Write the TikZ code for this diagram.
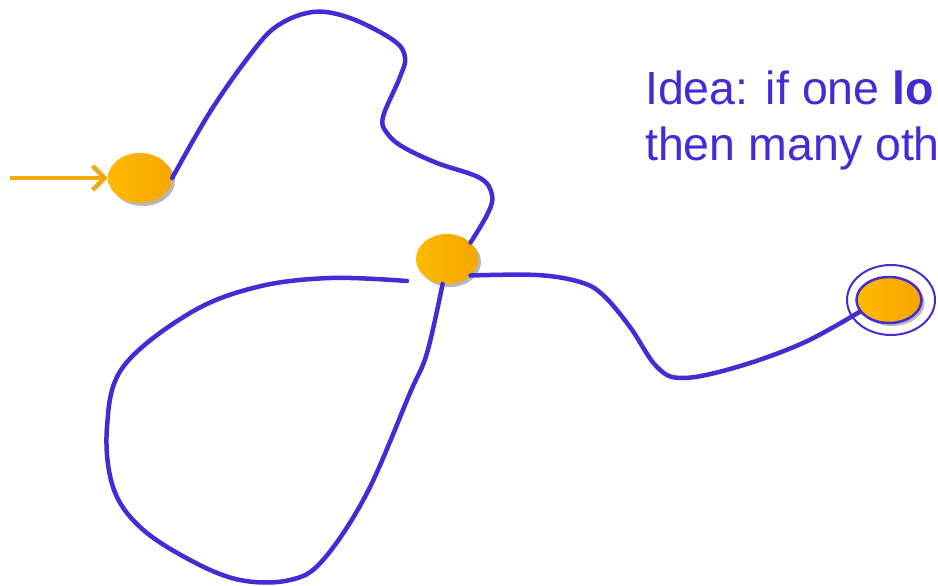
\documentclass[tikz,border=0pt]{standalone}
\usepackage{fontspec}
\setmainfont{Liberation Sans}
\usetikzlibrary{shapes.geometric,shadows,arrows.meta}
\definecolor{pathblue}{HTML}{432CD3}
\definecolor{stategold}{HTML}{FFB900}
\definecolor{statedark}{HTML}{F7A600}
\definecolor{arrowgold}{HTML}{F0AA10}

\tikzset{
  state/.style={ellipse, minimum width=64pt, minimum height=50pt, inner sep=0pt,
    left color=stategold, right color=statedark,
    drop shadow={shadow xshift=3pt, shadow yshift=-3pt, opacity=0.4, fill=black!70}},
  run/.style={draw=pathblue, line width=4.5pt, line cap=round},
  idea/.style={anchor=base west, text=pathblue, inner sep=0pt, font=\fontsize{46.5}{55}\selectfont}
}

\begin{document}
\begin{tikzpicture}[x=1pt, y=-1pt]
  \useasboundingbox (0,0) rectangle (938,586);
  \clip (0,0) rectangle (938,586);

  % states
  \node[state] (qA) at (140,178) {};
  \node[state, minimum width=62pt] (qB) at (447,259) {};
  \node[ellipse, draw=pathblue, line width=2pt, minimum width=88pt, minimum height=70pt] (qCring) at (891,300) {};
  \node[state, minimum width=65pt, minimum height=46pt, draw=pathblue, line width=2.5pt] (qC) at (889,300) {};
  \coordinate (loopend) at (407,281);
  \coordinate (entry) at (10,178);

  % start arrow
  \draw[draw=arrowgold, line width=4.5pt, -{Straight Barb[length=12pt, width=24pt, line width=4.5pt]}] (entry) -- (qA.west);

  % run from qA to qB
  \draw[run] plot[smooth, tension=0.6] coordinates {(qA.east) (210,112) (250,55) (277,26) (313,12) (350,18)
    (393,40) (405,57) (400,77) (383,117) (387,133) (403,147) (437,163) (480,178) (492,195) (488,213) (qB.35)};

  % run from qB to qC
  \draw[run] plot[smooth, tension=0.6] coordinates {(qB.-35) (537,275) (580,282) (603,295) (630,327)
    (657,367) (683,378) (737,367) (803,343) (qC.-158)};

  % loop on qB
  \draw[run] plot[smooth, tension=0.6] coordinates {(qB.-100) (427,353) (410,393) (367,493) (323,560)
    (290,580) (240,580) (190,560) (140,527) (113,487) (107,427) (123,367) (190,313) (257,287) (330,278) (loopend)};

  % text
  \node[idea] (line1) at (645,105) {Idea: if one \textbf{lo}};
  \node[idea] (line2) at (645,160) {then many oth};
\end{tikzpicture}
\end{document}
